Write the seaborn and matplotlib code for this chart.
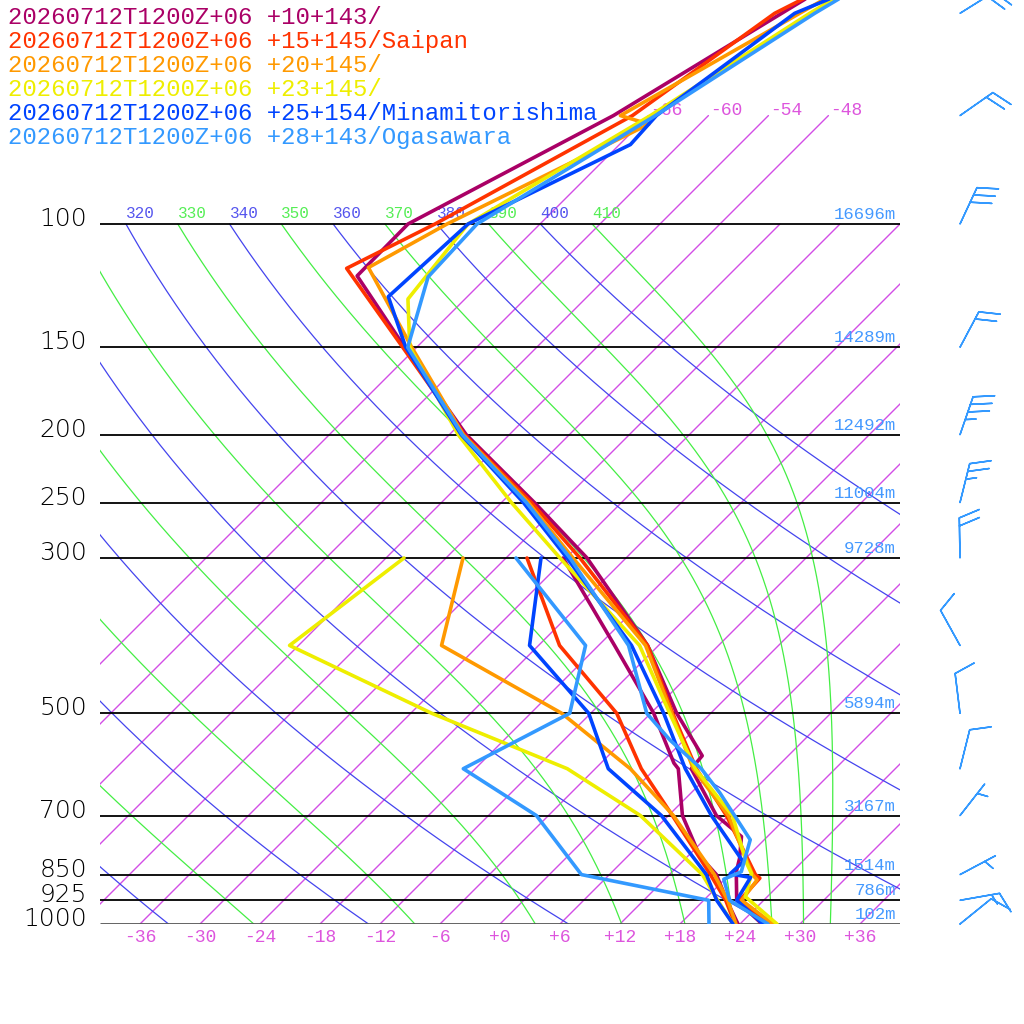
import numpy as np
import pandas as pd
import matplotlib
matplotlib.use("Agg")
import matplotlib.pyplot as plt
import seaborn as sns

# ---- sounding data (hPa, degC) ----
stations = ["20260712T1200Z+06 +10+143/",
            "20260712T1200Z+06 +15+145/Saipan",
            "20260712T1200Z+06 +20+145/",
            "20260712T1200Z+06 +23+145/",
            "20260712T1200Z+06 +25+154/Minamitorishima",
            "20260712T1200Z+06 +28+143/Ogasawara"]
colors = ["#aa0066", "#ff3300", "#ff9900", "#eeee00", "#0044ff", "#3399ff"]

p10_t = [1000, 925, 842, 806, 750, 700, 600, 575, 500, 400, 300, 250, 200, 150, 118.6, 100, 70, 50, 40]
t10 = [26.2, 21.3, 18.4, 17.4, 15.4, 10.8, 3.6, 3.4, -3.4, -13.1, -27.9, -38.7, -52.3, -67.2, -79.1, -79.2, -69.5, -62.9, -58.5]
p10_td = [1000, 925, 850, 800, 750, 700, 600, 589, 500, 400, 300]
td10 = [23.8, 20.3, 16.7, 13.2, 10.4, 7.4, 2.3, 1.3, -5.7, -16.4, -30.3]

p15_t = [1000, 925, 860, 850, 700, 600, 500, 400, 300, 250, 200, 150, 115.7, 100, 70, 50, 40]
t15 = [27.0, 21.6, 21.4, 20.6, 11.8, 4.1, -3.8, -13.1, -28.6, -39.0, -52.5, -67.4, -80.9, -76.5, -67.6, -63.6, -57.0]
p15_td = [1000, 925, 850, 700, 600, 500, 400, 300]
td15 = [23.5, 20.2, 16.1, 6.4, -1.4, -9.4, -21.9, -33.9]

p20_t = [1000, 925, 865, 850, 700, 600, 500, 400, 300, 250, 200, 150, 115.4, 100, 72, 70, 50, 40]
t20 = [27.3, 21.8, 21.3, 20.3, 12.0, 3.8, -3.9, -13.3, -29.3, -39.3, -52.6, -66.5, -78.8, -75.3, -65.1, -68.8, -61.1, -56.0]
p20_td = [1000, 925, 850, 700, 600, 500, 400, 300]
td20 = [23.6, 20.4, 16.5, 6.5, -2.5, -14.9, -33.7, -40.3]

p23_t = [1000, 914, 847, 819, 700, 600, 500, 400, 300, 250, 200, 150, 128, 100, 70, 50, 40]
t23 = [27.7, 21.8, 20.1, 18.6, 12.4, 4.0, -4.1, -13.9, -30.6, -41.0, -53.1, -66.7, -71.7, -73.2, -65.8, -60.1, -55.5]
p23_td = [1000, 925, 850, 700, 600, 500, 400, 300]
td23 = [23.3, 19.4, 15.3, 3.2, -8.8, -27.9, -48.9, -46.2]

p25_t = [1000, 925, 858, 848, 815, 700, 600, 500, 400, 300, 250, 200, 150, 127, 100, 77, 70, 50, 40]
t25 = [26.3, 21.3, 20.4, 18.0, 18.1, 10.3, 3.0, -4.7, -14.7, -29.9, -39.8, -52.8, -67.1, -73.9, -73.2, -64.9, -65.2, -61.6, -52.0]
p25_td = [1000, 925, 850, 700, 600, 500, 400, 300]
td25 = [23.3, 19.3, 15.7, 5.3, -4.7, -12.2, -24.9, -32.5]

p28_t = [1000, 925, 863, 842, 758, 650, 600, 546, 500, 400, 300, 250, 200, 150, 119, 100, 70, 50, 40]
t28 = [26.8, 20.6, 17.9, 18.9, 16.6, 8.9, 4.6, -1.4, -6.4, -15.0, -29.6, -39.5, -52.7, -66.9, -71.9, -72.3, -65.3, -59.6, -55.0]
p28_td = [1000, 925, 850, 700, 600, 500, 400, 300]
td28 = [20.9, 18.5, 3.2, -7.2, -19.2, -14.1, -19.3, -35.0]

# winds (Ogasawara), direction from (deg) and speed
barb_p = [1000, 925, 850, 700, 600, 500, 400, 300, 250, 200, 150, 100, 70, 50]
barb_dir = [51, 80, 62, 38, 14, 353, 331, 359, 14, 19, 28, 25, 55, 58]
barb_spd = [10, 15, 5, 5, 10, 10, 10, 20, 25, 35, 20, 30, 20, 20]

# chart furniture
isobars = [100, 150, 200, 250, 300, 500, 700, 850, 925, 1000]
heights = ["16696m", "14289m", "12492m", "11004m", "9728m",
           "5894m", "3167m", "1514m", "786m", "102m"]
isotherms = list(range(-66, 37, 6))
upper_isotherms = [-66, -60, -54, -48]
dry_thetas = list(range(240, 401, 20))
moist_thetas = list(range(250, 411, 20))

SKEW = 30.4
KAPPA = 0.2857
P_TOP = 1000 * np.exp(-924 / 304)
ISO_C = "#d24ee6"


def skx(t, p):
    return np.asarray(t) + SKEW * np.log(1000.0 / np.asarray(p))


def dtdp(p, tk):
    es = 6.112 * np.exp(17.67 * (tk - 273.15) / (tk - 29.65))
    rs = 0.622 * es / (p - es)
    num = 287.04 * tk + 2.501e6 * rs
    den = 1005.7 + 2.501e6 ** 2 * rs * 0.622 / (287.04 * tk ** 2)
    return num / den / p


def moist_line(theta, plev):
    tk = theta * 0.1 ** KAPPA
    out = [tk]
    for p0, p1 in zip(plev[:-1], plev[1:]):
        h = p1 - p0
        k1 = dtdp(p0, tk)
        k2 = dtdp(p0 + h / 2, tk + h * k1 / 2)
        k3 = dtdp(p0 + h / 2, tk + h * k2 / 2)
        k4 = dtdp(p1, tk + h * k3)
        tk = tk + h * (k1 + 2 * k2 + 2 * k3 + k4) / 6
        out.append(tk)
    return np.array(out) - 273.15


sns.set_style("white")
plt.rcParams["font.family"] = ["Liberation Mono", "DejaVu Sans Mono"]

fig = plt.figure(figsize=(10.24, 10.24), dpi=100)
rect = [100 / 1024, 100 / 1024, 800 / 1024, 924 / 1024]
ax = fig.add_axes(rect)
ax.set_yscale("log")

# isotherms
for t in isotherms:
    ptop = 70 if t in upper_isotherms else 100
    ps = np.array([1000, ptop])
    ax.plot(skx([t, t], ps), ps, color=ISO_C, lw=1.0, zorder=1)
for t in upper_isotherms:
    ax.annotate(f"{t:+d}", xy=(skx(t, 70), 70), xytext=(2, -3),
                textcoords="offset pixels", ha="left", va="bottom",
                fontsize=13, color="#dd55dd")
for t in isotherms:
    if -36 <= t <= 36:
        ax.annotate(f"{t:+d}", xy=(skx(t, 1000), 1000), xytext=(0, -14),
                    textcoords="offset pixels", ha="center", va="center",
                    fontsize=13, color="#dd55dd", annotation_clip=False)

# dry adiabats
pl = np.geomspace(1000, 100, 200)
for th in dry_thetas:
    tc = th * (pl / 1000) ** KAPPA - 273.15
    ax.plot(skx(tc, pl), pl, color="#4444ee", lw=0.9, zorder=1)
    ax.annotate(str(th), xy=(skx(th * 0.1 ** KAPPA - 273.15, 100), 100),
                xytext=(0, 3), textcoords="offset pixels", ha="left",
                va="bottom", fontsize=11.5, color="#5555ee", clip_on=True)

# moist adiabats
pm = np.linspace(100, 1000, 400)
for th in moist_thetas:
    tc = moist_line(th, pm)
    ax.plot(skx(tc, pm), pm, color="#44ee44", lw=0.9, zorder=1)
    ax.annotate(str(th), xy=(skx(th * 0.1 ** KAPPA - 273.15, 100), 100),
                xytext=(0, 3), textcoords="offset pixels", ha="left",
                va="bottom", fontsize=11.5, color="#55ee55", clip_on=True)

# isobars
for p, h in zip(isobars, heights):
    ax.plot([-40, 40], [p, p], color="#555555" if p == 1000 else "black",
            lw=2.0 if p == 1000 else 1.3, zorder=1.5, solid_capstyle="butt")
    ax.annotate(str(p), xy=(0, p), xycoords=ax.get_yaxis_transform(),
                xytext=(-13, -2), textcoords="offset pixels", ha="right",
                va="baseline", fontsize=18, family="DejaVu Sans",
                fontweight="light", color="black", annotation_clip=False)
    ax.annotate(h, xy=(1, p), xycoords=ax.get_yaxis_transform(),
                xytext=(-4, 2), textcoords="offset pixels", ha="right",
                va="bottom", fontsize=12.5, color="#4499ff")

# profiles
profiles = [(p10_t, t10, p10_td, td10), (p15_t, t15, p15_td, td15),
            (p20_t, t20, p20_td, td20), (p23_t, t23, p23_td, td23),
            (p25_t, t25, p25_td, td25), (p28_t, t28, p28_td, td28)]
rows = []
for name, (pt, tt, pd_, tdd) in zip(stations, profiles):
    for kind, ps, ts in (("T", pt, tt), ("Td", pd_, tdd)):
        for i, (p, t) in enumerate(zip(ps, ts)):
            rows.append({"station": name, "line": name + kind, "i": i,
                         "p": p, "X": float(skx(t, p))})
df = pd.DataFrame(rows)
sns.lineplot(data=df, x="X", y="p", hue="station", units="line",
             estimator=None, sort=False, palette=dict(zip(stations, colors)),
             linewidth=2.6, legend=False, ax=ax, zorder=3)

ax.set_xlim(-40, 40)
ax.set_ylim(1000, P_TOP)
ax.set_axis_off()

# wind barbs on a twin axes with linear ln(p) height, same frame
bax = fig.add_axes(rect, frameon=False)
wd = np.deg2rad(barb_dir)
u = -np.array(barb_spd) * np.sin(wd)
v = -np.array(barb_spd) * np.cos(wd)
bax.barbs(np.full(len(barb_p), 46.0), np.log(1000.0 / np.array(barb_p)), u, v,
          length=7.6, color="#3399ff", linewidth=1.1, clip_on=False,
          sizes=dict(spacing=0.2, height=0.5, width=0.4))
bax.set_xlim(-40, 40)
bax.set_ylim(0, np.log(1000.0 / P_TOP))
bax.set_axis_off()

for k, (name, c) in enumerate(zip(stations, colors)):
    fig.text(8 / 1024, 1 - (17 + 24.1 * k) / 1024, name, color=c,
             fontsize=17.3, ha="left", va="center")

fig.savefig("out.png", dpi=100)
